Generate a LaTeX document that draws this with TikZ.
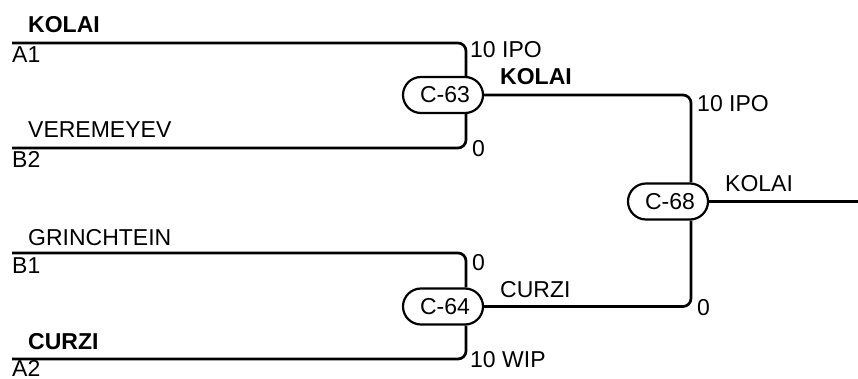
\documentclass[tikz,border=0pt]{standalone}
\usepackage{fontspec}
\setmainfont{Liberation Sans}
\usetikzlibrary{shapes.misc,backgrounds}
\begin{document}
\begin{tikzpicture}[x=1pt,y=-1pt,
 lbl/.style={anchor=base west, inner sep=0pt, font=\fontsize{23}{27}\selectfont},
 blbl/.style={anchor=base west, inner sep=0pt, font=\fontsize{23}{27}\selectfont\bfseries},
 matchbox/.style={rounded rectangle, draw, line width=2.2pt, fill=white, minimum width=80pt, minimum height=36pt, inner sep=0pt, font=\fontsize{23}{27}\selectfont},
 wire/.style={line width=2.7pt, rounded corners=8pt}]
\useasboundingbox (0,0) rectangle (858,379);
% matches
\node[matchbox] (c63) at (443,95) {\hspace{4pt}C-63};
\node[matchbox] (c64) at (443,306.5) {\hspace{4pt}C-64};
\node[matchbox] (c68) at (668,201.5) {\hspace{4pt}C-68};
% junction columns and free ends
\coordinate (j63) at (466,95);
\coordinate (j68) at (691,201.5);
\coordinate (a1) at (12,43);
\coordinate (b2) at (12,148);
\coordinate (b1) at (12,253);
\coordinate (a2) at (12,359);
\coordinate (out) at (858,201.5);
\begin{pgfonlayer}{background}
\draw[wire] (a1) -- (a1 -| j63) -- (j63 |- c63.north);
\draw[wire] (b2) -- (b2 -| j63) -- (j63 |- c63.south);
\draw[wire] (b1) -- (b1 -| j63) -- (j63 |- c64.north);
\draw[wire] (a2) -- (a2 -| j63) -- (j63 |- c64.south);
\draw[wire] (c63.east) -- (c63.east -| j68) -- (j68 |- c68.north);
\draw[wire] (c64.east) -- (c64.east -| j68) -- (j68 |- c68.south);
\draw[wire] (c68.east) -- (out);
\end{pgfonlayer}
% labels
\node[blbl] (t1) at (28,33) {KOLAI};
\node[lbl] (t2) at (12,63) {A1};
\node[lbl] (t3) at (470,58) {10 IPO};
\node[lbl] (t4) at (28,138) {VEREMEYEV};
\node[lbl] (t5) at (12,168) {B2};
\node[lbl] (t6) at (472,157) {0};
\node[lbl] (t7) at (28,245) {GRINCHTEIN};
\node[lbl] (t8) at (12,273) {B1};
\node[lbl] (t9) at (472,270) {0};
\node[blbl] (t10) at (28,349) {CURZI};
\node[lbl] (t11) at (12,376) {A2};
\node[lbl] (t12) at (470,367) {10 WIP};
\node[blbl] (t13) at (500,85) {KOLAI};
\node[lbl] (t14) at (697,112) {10 IPO};
\node[lbl] (t15) at (725,192) {KOLAI};
\node[lbl] (t16) at (500,297) {CURZI};
\node[lbl] (t17) at (697,315) {0};
\end{tikzpicture}
\end{document}
